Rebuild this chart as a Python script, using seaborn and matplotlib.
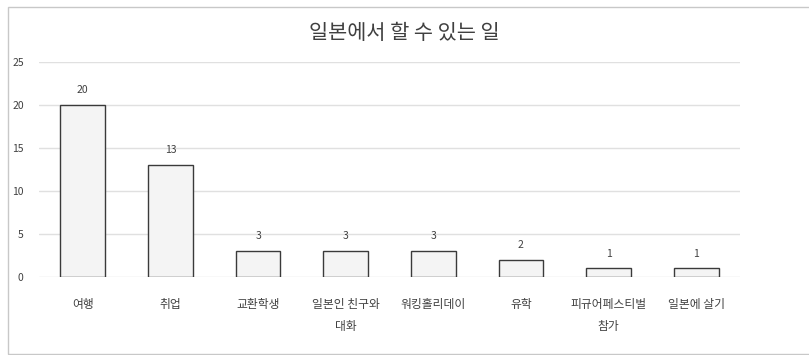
import matplotlib
matplotlib.use("Agg")
import matplotlib.pyplot as plt
import seaborn as sns
import pandas as pd
from matplotlib.patches import Rectangle

categories = ["여행", "취업", "교환학생", "일본인 친구와\n대화", "워킹홀리데이", "유학", "피규어페스티벌\n참가", "일본에 살기"]
counts = [20, 13, 3, 3, 3, 2, 1, 1]
yticks = [0, 5, 10, 15, 20, 25]
title = "일본에서 할 수 있는 일"

sns.set_theme(style="white")
plt.rcParams["font.family"] = ["Noto Sans CJK KR", "DejaVu Sans"]

W, H = 809, 355
fig = plt.figure(figsize=(W / 100, H / 100), dpi=100)
fig.patch.set_facecolor("white")

# outer chart frame
fig.add_artist(Rectangle((8 / W, 1 - 354 / H), (W + 10 - 8) / W, (354 - 7) / H,
                         transform=fig.transFigure, fill=False,
                         edgecolor="#c8c8c8", linewidth=1.0))

left, right = 39, 740
top, bottom = 62, 277
ax = fig.add_axes([left / W, 1 - bottom / H, (right - left) / W, (bottom - top) / H])

df = pd.DataFrame({"category": categories, "count": counts})
sns.barplot(data=df, x="category", y="count", ax=ax, color="#f4f4f4",
            edgecolor="#3a3a3a", linewidth=1.0, width=0.51, saturation=1)

ax.set_ylim(0, 25)
ax.set_xlim(-0.5, len(categories) - 0.5)
ax.set_yticks(yticks)
ax.set_yticklabels([str(v) for v in yticks], fontsize=7.5, color="#404040")
ax.tick_params(axis="x", labelsize=8.5, colors="#404040", length=0, pad=15)
ax.tick_params(axis="y", length=0, pad=11)
for lbl in ax.get_xticklabels():
    lbl.set_linespacing(1.9)
ax.yaxis.grid(True, color="#e0e0e0", linewidth=1.0)
ax.set_axisbelow(True)
for s in ax.spines.values():
    s.set_visible(False)
ax.set_xlabel("")
ax.set_ylabel("")

for container in ax.containers:
    ax.bar_label(container, labels=[str(v) for v in counts], padding=7,
                 fontsize=7.5, color="#404040")

fig.text(0.5, 1 - 33 / H, title, ha="center", va="center", fontsize=15, color="#404040")

fig.savefig("out.png", dpi=100, facecolor="white")
